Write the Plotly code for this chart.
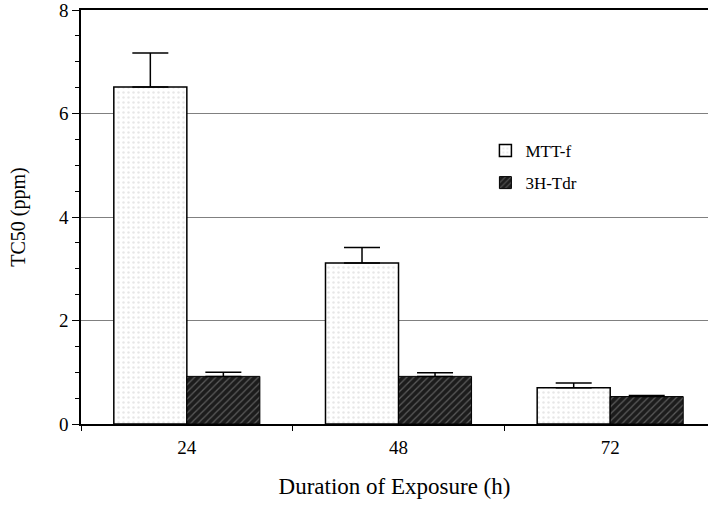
import plotly.graph_objects as go

categories = ["24", "48", "72"]
mtt_values = [6.51, 3.11, 0.70]
mtt_errors = [0.66, 0.30, 0.09]
tdr_values = [0.92, 0.92, 0.53]
tdr_errors = [0.08, 0.07, 0.02]
series_names = ["MTT-f", "3H-Tdr"]
y_ticks = [0, 2, 4, 6, 8]

FONT = "Liberation Serif"

fig = go.Figure()
fig.add_trace(go.Bar(
    x=categories, y=mtt_values, name=series_names[0], legendgroup="a",
    marker=dict(color="white", line=dict(color="black", width=1.5),
                pattern=dict(shape=".", fgcolor="#d0d0d0", bgcolor="white",
                             size=5, solidity=0.2, fillmode="overlay")),
    error_y=dict(type="data", array=mtt_errors, arrayminus=[0, 0, 0], symmetric=False,
                 color="black", thickness=1.5, width=18),
))
fig.add_trace(go.Bar(
    x=categories, y=tdr_values, name=series_names[1], legendgroup="b",
    marker=dict(color="#1c1c1c", line=dict(color="black", width=1),
                pattern=dict(shape="/", fgcolor="#9a9a9a", bgcolor="#1c1c1c",
                             size=5, solidity=0.25, fillmode="overlay")),
    error_y=dict(type="data", array=tdr_errors, arrayminus=[0, 0, 0], symmetric=False,
                 color="black", thickness=1.5, width=18),
))

fig.update_layout(
    width=708, height=514,
    margin=dict(l=81, r=0, t=10, b=90),
    paper_bgcolor="white", plot_bgcolor="white",
    barmode="group", bargap=0.31, bargroupgap=0,
    font=dict(family=FONT, color="black", size=17),
    showlegend=True,
    legend=dict(x=0.645, y=0.703, xanchor="left", yanchor="top",
                bgcolor="rgba(0,0,0,0)", font=dict(size=17, family=FONT, color="black"),
                tracegroupgap=7, itemwidth=30),
    xaxis=dict(
        range=[-0.5, 2.462], automargin=False,
        showline=True, linecolor="black", linewidth=1.5, mirror=True,
        ticks="outside", ticklen=5, tickcolor="black", tickson="boundaries",
        ticklabelstandoff=5,
        tickfont=dict(size=19, family=FONT, color="black"),
        title=dict(text="Duration of Exposure (h)", font=dict(size=23, family=FONT, color="black"), standoff=21),
        showgrid=False,
    ),
    yaxis=dict(
        range=[0, 8], automargin=False,
        tickvals=y_ticks, ticklabeloverflow="allow",
        showline=True, linecolor="black", linewidth=1.5,
        ticks="outside", ticklen=7, tickcolor="black",
        tickfont=dict(size=19, family=FONT, color="black"),
        minor=dict(dtick=0.5, ticks="outside", ticklen=4, tickcolor="black", showgrid=False),
        showgrid=True, gridcolor="#808080", gridwidth=1,
        zeroline=False,
        title=dict(text="TC50 (ppm)", font=dict(size=20, family=FONT, color="black"), standoff=28),
    ),
)

fig.write_html("out.html", config={"displayModeBar": False},
               post_script="document.body.style.margin='0px';")
